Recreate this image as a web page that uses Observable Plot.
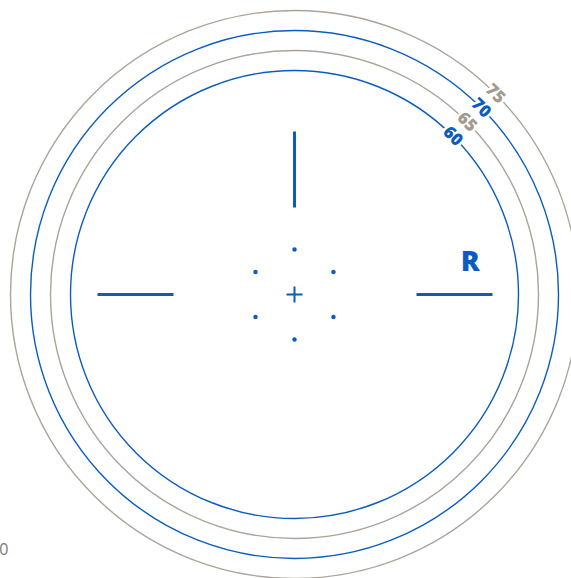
<!DOCTYPE html>
<html>
<head>
<meta charset="utf-8">
<script src="https://cdn.jsdelivr.net/npm/d3@7"></script>
<script src="https://cdn.jsdelivr.net/npm/@observablehq/plot@0.6"></script>
<style>
  html, body { margin: 0; padding: 0; background: #fff; }
  #chart svg { display: block; }
</style>
</head>
<body>
<div id="chart"></div>
<script>
// ring values (labels on the rings)
const rings = [60, 65, 70, 75];
// hexagon of small dots around the centre: angles (deg) and distance (units)
const dotAngles = [0, 60, 120, 180, 240, 300];
const dotDistance = 11.25;
// crosshair arms (units from centre)
const arms = [
  {x1: 0, y1: 21.75, x2: 0, y2: 40.75},
  {x1: -49.25, y1: 0, x2: -30.25, y2: 0},
  {x1: 30.5, y1: 0, x2: 49.5, y2: 0}
];
// centre cross half-length
const crossHalf = 2;
// side marker
const sideLabel = [{x: 43.9, y: 8, text: "R"}];
// stray label at bottom-left
const cornerLabel = [{x: -71.5, y: -63.75, text: "0"}];

const BLUE = "#0b5cc0";
const GRAY = "#aaa499";
const GRAY_TEXT = "#a29c90";

const hexDots = dotAngles.map(a => ({
  x: dotDistance * Math.sin(a * Math.PI / 180),
  y: dotDistance * Math.cos(a * Math.PI / 180)
}));
const cross = [
  {x1: -crossHalf, y1: 0, x2: crossHalf, y2: 0},
  {x1: 0, y1: -crossHalf, x2: 0, y2: crossHalf}
];

const chart = Plot.plot({
  width: 571,
  height: 578,
  margin: 0,
  x: {domain: [-73.5, 69.25], axis: null},
  y: {domain: [-71, 73.5], axis: null},
  r: {type: "linear", domain: [4, 75], range: [0, 284]},
  style: {background: "white", fontFamily: "'Open Sans', sans-serif"},
  marks: [
    Plot.dot(rings, {
      x: () => 0, y: () => 0, r: d => d,
      fill: "none",
      stroke: d => (d % 10 === 0 ? BLUE : GRAY),
      strokeWidth: 1.4
    }),
    Plot.text(rings, {
      x: d => (d - 4) * Math.SQRT1_2,
      y: d => (d - 4) * Math.SQRT1_2,
      text: d => String(d),
      rotate: 45,
      fill: d => (d % 10 === 0 ? BLUE : GRAY_TEXT),
      stroke: "white",
      strokeWidth: 5,
      fontSize: 17,
      fontWeight: 800,
      fontFamily: "'Open Sans', sans-serif"
    }),
    Plot.link(arms, {
      x1: "x1", y1: "y1", x2: "x2", y2: "y2",
      stroke: BLUE, strokeWidth: 3, strokeLinecap: "butt"
    }),
    Plot.link(cross, {
      x1: "x1", y1: "y1", x2: "x2", y2: "y2",
      stroke: BLUE, strokeWidth: 2, strokeLinecap: "butt"
    }),
    Plot.dot(hexDots, {x: "x", y: "y", r: 2.2, fill: BLUE, stroke: "none"}),
    Plot.text(sideLabel, {
      x: "x", y: "y", text: "text",
      fill: BLUE, fontSize: 28, fontWeight: 800,
      fontFamily: "'Open Sans', sans-serif"
    }),
    Plot.text(cornerLabel, {
      x: "x", y: "y", text: "text",
      fill: "#777", fontSize: 16, textAnchor: "end"
    })
  ]
});
document.getElementById("chart").appendChild(chart);
</script>
</body>
</html>
